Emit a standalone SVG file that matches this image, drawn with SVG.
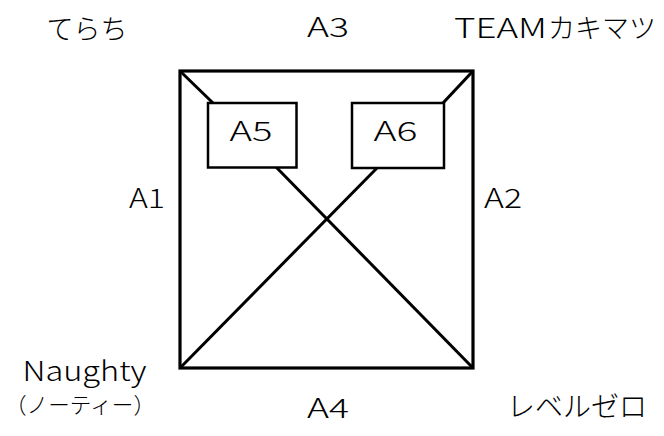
<svg xmlns="http://www.w3.org/2000/svg" width="664" height="436" viewBox="0 0 664 436">
<style>
.t{font-family:"Noto Sans CJK JP","Noto Sans",sans-serif;fill:#000;font-weight:300;}
.box{fill:#fff;stroke:#000;stroke-width:2.5;}
.frame{fill:none;stroke:#000;stroke-width:3.2;}
.ln{stroke:#000;stroke-width:3;fill:none;}
</style>
<rect width="664" height="436" fill="#fff"/>
<g id="frame">
<rect class="frame" x="180" y="71" width="293" height="297"/>
</g>
<g id="connectors">
<line class="ln" x1="180" y1="71" x2="213" y2="103"/>
<line class="ln" x1="473" y1="71" x2="443" y2="103"/>
<line class="ln" x1="276" y1="167" x2="473" y2="368"/>
<line class="ln" x1="377" y1="168" x2="180" y2="368"/>
</g>
<g id="A5">
<rect class="box" x="208" y="103" width="88.5" height="64.5"/>
<text class="t" x="251" y="141" font-size="27" text-anchor="middle" textLength="43" lengthAdjust="spacingAndGlyphs">A5</text>
</g>
<g id="A6">
<rect class="box" x="352" y="103" width="92" height="65"/>
<text class="t" x="395.5" y="141" font-size="27" text-anchor="middle" textLength="44" lengthAdjust="spacingAndGlyphs">A6</text>
</g>
<g id="labels">
<text class="t" x="87" y="39" font-size="27" text-anchor="middle">てらち</text>
<text class="t" x="328" y="37" font-size="27" text-anchor="middle" textLength="42" lengthAdjust="spacingAndGlyphs">A3</text>
<text class="t" x="454" y="38" font-size="27"><tspan textLength="93" lengthAdjust="spacingAndGlyphs">TEAM</tspan><tspan x="548">カキマツ</tspan></text>
<text class="t" x="147" y="208" font-size="27" text-anchor="middle" textLength="36" lengthAdjust="spacingAndGlyphs">A1</text>
<text class="t" x="503" y="208" font-size="27" text-anchor="middle" textLength="38" lengthAdjust="spacingAndGlyphs">A2</text>
<text class="t" x="84.5" y="381" font-size="27" text-anchor="middle" textLength="124" lengthAdjust="spacingAndGlyphs">Naughty</text>
<text class="t" x="80" y="413" font-size="22" text-anchor="middle" textLength="150" lengthAdjust="spacingAndGlyphs">（ノーティー）</text>
<text class="t" x="328" y="418" font-size="27" text-anchor="middle" textLength="42" lengthAdjust="spacingAndGlyphs">A4</text>
<text class="t" x="577" y="417" font-size="28" text-anchor="middle">レベルゼロ</text>
</g>
</svg>
